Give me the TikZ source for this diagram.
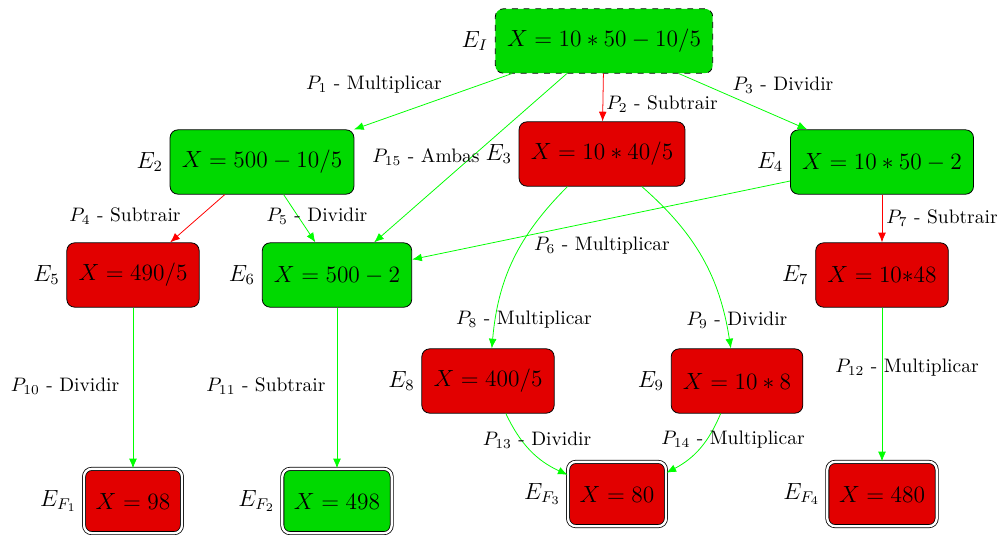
\documentclass[tikz,border=0pt]{standalone}
\usetikzlibrary{arrows.meta}
\definecolor{stategreen}{RGB}{0,217,0}
\definecolor{statered}{RGB}{226,0,0}
\tikzset{
  statebox/.style={draw=black, rounded corners=4pt, minimum height=33pt,
    inner xsep=6pt, font=\large, label distance=1.5pt},
  goodstate/.style={statebox, fill=stategreen},
  badstate/.style={statebox, fill=statered},
  endstate/.style={double, double distance=1.2pt},
  startstate/.style={dashed},
  ename/.style={label={[font=\large]left:#1}},
  pathok/.style={draw=green, -{Latex[length=5pt,width=4pt]}},
  pathko/.style={draw=red, -{Latex[length=5pt,width=4pt]}},
  tag/.style={font=\normalsize, inner sep=0pt}
}
\begin{document}
\begin{tikzpicture}[x=0.513pt, y=-0.513pt]
  \useasboundingbox (0,0) rectangle (998,534);

  % states
  \node[goodstate, startstate, ename={$E_I$}] (EI) at (604,41) {$X = 10*50-10/5$};
  \node[goodstate, ename={$E_2$}] (E2) at (262,162) {$X = 500-10/5$};
  \node[badstate,  ename={$E_3$}] (E3) at (602,154) {$X = 10*40/5$};
  \node[goodstate, ename={$E_4$}] (E4) at (882,162) {$X = 10*50-2$};
  \node[badstate,  ename={$E_5$}] (E5) at (133,275) {$X = 490/5$};
  \node[goodstate, ename={$E_6$}] (E6) at (337,275) {$X = 500-2$};
  \node[badstate,  ename={$E_7$}] (E7) at (882,275) {$X = 10{*}48$};
  \node[badstate,  ename={$E_8$}] (E8) at (488,381) {$X = 400/5$};
  \node[badstate,  ename={$E_9$}] (E9) at (737,381) {$X = 10*8$};

  % final states
  \node[badstate,  endstate, ename={$E_{F_1}$}] (EF1) at (133,501) {$X = 98$};
  \node[goodstate, endstate, ename={$E_{F_2}$}] (EF2) at (337,501) {$X = 498$};
  \node[badstate,  endstate, ename={$E_{F_3}$}] (EF3) at (617,494) {$X = 80$};
  \node[badstate,  endstate, ename={$E_{F_4}$}] (EF4) at (882,494) {$X = 480$};

  % transitions
  \draw[pathok] (EI) -- (E2);
  \draw[pathko] (EI) -- (E3);
  \draw[pathok] (EI) -- (E4);
  \draw[pathok] (EI) -- (E6);
  \draw[pathko] (E2) -- (E5);
  \draw[pathok] (E2) -- (E6);
  \draw[pathok] (E4) -- (E6);
  \draw[pathko] (E4) -- (E7);
  \draw[pathok] (E3) to[bend right=20] (E8);
  \draw[pathok] (E3) to[bend left=20] (E9);
  \draw[pathok] (E5) -- (EF1);
  \draw[pathok] (E6) -- (EF2);
  \draw[pathok] (E7) -- (EF4);
  \draw[pathok] (E8) to[bend right=20] (EF3);
  \draw[pathok] (E9) to[bend left=20] (EF3);

  % transition names
  \node[tag] (p1)  at (374,85)  {$P_1$ - Multiplicar};
  \node[tag] (p2)  at (662,104) {$P_2$ - Subtrair};
  \node[tag] (p3)  at (783,85)  {$P_3$ - Dividir};
  \node[tag] (p15) at (426,157) {$P_{15}$ - Ambas};
  \node[tag] (p4)  at (125,216) {$P_4$ - Subtrair};
  \node[tag] (p5)  at (317,216) {$P_5$ - Dividir};
  \node[tag] (p6)  at (602,246) {$P_6$ - Multiplicar};
  \node[tag] (p7)  at (942,218) {$P_7$ - Subtrair};
  \node[tag] (p8)  at (524,320) {$P_8$ - Multiplicar};
  \node[tag] (p9)  at (737,320) {$P_9$ - Dividir};
  \node[tag] (p10) at (65,386)  {$P_{10}$ - Dividir};
  \node[tag] (p11) at (266,386) {$P_{11}$ - Subtrair};
  \node[tag] (p12) at (907,368) {$P_{12}$ - Multiplicar};
  \node[tag] (p13) at (537,440) {$P_{13}$ - Dividir};
  \node[tag] (p14) at (733,440) {$P_{14}$ - Multiplicar};
\end{tikzpicture}
\end{document}
